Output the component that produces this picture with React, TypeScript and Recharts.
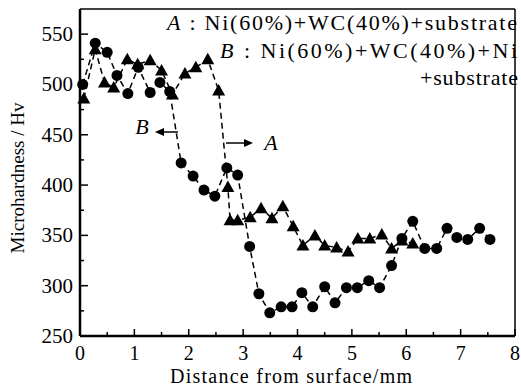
import { LineChart, Line, XAxis, YAxis, ReferenceLine } from "recharts";

// ── Data ───────────────────────────────────────────────────────────

// A : Ni(60%)+WC(40%)+substrate  (triangles)
const A_X = [0.07, 0.28, 0.45, 0.62, 0.87, 1.06, 1.29, 1.5, 1.7, 1.93, 2.13, 2.35, 2.55, 2.72, 2.76, 2.9, 3.13, 3.33, 3.53, 3.73, 3.92, 4.1, 4.32, 4.5, 4.72, 4.93, 5.11, 5.33, 5.55, 5.73, 5.92, 6.12];
const A_HV = [486, 535, 502, 497, 525, 520, 524, 514, 490, 511, 517, 525, 494, 398, 365, 365, 368, 377, 367, 379, 359, 340, 350, 340, 338, 334, 347, 347, 351, 337, 345, 342];

// B : Ni(60%)+WC(40%)+Ni+substrate  (circles)
const B_X = [0.05, 0.28, 0.5, 0.68, 0.88, 1.07, 1.29, 1.47, 1.65, 1.86, 2.08, 2.28, 2.48, 2.7, 2.9, 3.12, 3.29, 3.49, 3.7, 3.9, 4.08, 4.28, 4.5, 4.69, 4.9, 5.1, 5.31, 5.51, 5.73, 5.92, 6.12, 6.34, 6.56, 6.75, 6.93, 7.13, 7.35, 7.54];
const B_HV = [500, 541, 532, 509, 491, 517, 492, 502, 493, 422, 409, 395, 389, 417, 410, 339, 292, 273, 279, 279, 293, 279, 299, 283, 298, 298, 305, 298, 320, 347, 364, 337, 337, 357, 348, 346, 357, 346];

const X_TICKS = [0, 0.5, 1, 1.5, 2, 2.5, 3, 3.5, 4, 4.5, 5, 5.5, 6, 6.5, 7, 7.5, 8];
const Y_TICKS = [250, 275, 300, 325, 350, 375, 400, 425, 450, 475, 500, 525, 550];

const LEGEND_A = "A : Ni(60%)+WC(40%)+substrate";
const LEGEND_B1 = "B : Ni(60%)+WC(40%)+Ni";
const LEGEND_B2 = "+substrate";
const X_LABEL = "Distance from surface/mm";
const Y_LABEL = "Microhardness / Hv";

const seriesA = A_X.map((x, i) => ({ x, hv: A_HV[i] }));
const seriesB = B_X.map((x, i) => ({ x, hv: B_HV[i] }));

const FONT = '"Liberation Serif", "Times New Roman", serif';
const serif: React.CSSProperties = { fontFamily: FONT };

// ── Ticks & markers ────────────────────────────────────────────────

// eslint-disable-next-line @typescript-eslint/no-explicit-any
function XTick(props: any) {
  const { x, y, payload } = props;
  const major = Number.isInteger(payload.value);
  return (
    <g>
      <line x1={x} x2={x} y1={y} y2={y - (major ? 7 : 4)} stroke="#000" strokeWidth={1.5} />
      {major && (
        <text x={x} y={y + 24} textAnchor="middle" fontSize={20} style={serif} fill="#000">
          {payload.value}
        </text>
      )}
    </g>
  );
}

// eslint-disable-next-line @typescript-eslint/no-explicit-any
function YTick(props: any) {
  const { x, y, payload } = props;
  const major = payload.value % 50 === 0;
  return (
    <g>
      <line x1={x} x2={x + (major ? 8 : 4)} y1={y} y2={y} stroke="#000" strokeWidth={1.5} />
      {major && (
        <text x={x - 7} y={y + 7} textAnchor="end" fontSize={21} style={serif} fill="#000">
          {payload.value}
        </text>
      )}
    </g>
  );
}

// eslint-disable-next-line @typescript-eslint/no-explicit-any
function TriangleDot(props: any) {
  const { cx, cy, index } = props;
  if (cx == null || cy == null) return <g key={index} />;
  return <polygon key={index} points={`${cx},${cy - 6.5} ${cx - 6.5},${cy + 5} ${cx + 6.5},${cy + 5}`} fill="#000" />;
}

// eslint-disable-next-line @typescript-eslint/no-explicit-any
function CircleDot(props: any) {
  const { cx, cy, index } = props;
  if (cx == null || cy == null) return <g key={index} />;
  return <circle key={index} cx={cx} cy={cy} r={5.5} fill="#000" />;
}

// ── Chart ──────────────────────────────────────────────────────────

export default function App() {
  return (
    <div style={{ position: "absolute", left: 0, top: 0, width: 521, height: 390, background: "#fff", fontFamily: FONT }}>
      <LineChart width={521} height={390} margin={{ top: 9, right: 6, bottom: 0, left: 0 }}>
        <XAxis
          dataKey="x"
          type="number"
          domain={[0, 8]}
          ticks={X_TICKS}
          interval={0}
          tickSize={0}
          tickMargin={0}
          tick={<XTick />}
          height={54}
          axisLine={{ stroke: "#000", strokeWidth: 2.5 }}
          tickLine={false}
        />
        <YAxis
          dataKey="hv"
          type="number"
          domain={[250, 575]}
          ticks={Y_TICKS}
          interval={0}
          tickSize={0}
          tickMargin={0}
          tick={<YTick />}
          width={80}
          axisLine={{ stroke: "#000", strokeWidth: 2.5 }}
          tickLine={false}
        />
        <ReferenceLine y={575} stroke="#000" strokeWidth={1.5} />
        <ReferenceLine x={8} stroke="#000" strokeWidth={1.5} />
        <Line
          data={seriesA}
          dataKey="hv"
          type="linear"
          stroke="#000"
          strokeWidth={1.5}
          strokeDasharray="6 4"
          dot={<TriangleDot />}
          isAnimationActive={false}
        />
        <Line
          data={seriesB}
          dataKey="hv"
          type="linear"
          stroke="#000"
          strokeWidth={1.5}
          strokeDasharray="6 4"
          dot={<CircleDot />}
          isAnimationActive={false}
        />
      </LineChart>
      <svg width={521} height={390} style={{ position: "absolute", left: 0, top: 0, pointerEvents: "none", fontFamily: FONT }} fill="#000">
        {/* axis titles */}
        <text x={291} y={383} fontSize={20} textAnchor="middle" textLength={242} lengthAdjust="spacing" style={serif}>{X_LABEL}</text>
        <text x={24} y={178} fontSize={19} textAnchor="middle" transform="rotate(-90 24 178)" style={serif}>{Y_LABEL}</text>
        {/* legend */}
        <text x={167} y={30} fontSize={22} textLength={350} lengthAdjust="spacing" style={serif}>
          <tspan fontStyle="italic">A</tspan>
          {LEGEND_A.slice(1)}
        </text>
        <text x={220} y={58} fontSize={22} textLength={297} lengthAdjust="spacing" style={serif}>
          <tspan fontStyle="italic">B</tspan>
          {LEGEND_B1.slice(1)}
        </text>
        <text x={420} y={85} fontSize={22} textLength={98} lengthAdjust="spacing" style={serif}>
          {LEGEND_B2}
        </text>
        {/* B annotation arrow */}
        <text x={142} y={134} fontSize={22} fontStyle="italic" textAnchor="middle" style={serif}>B</text>
        <line x1={178} y1={132} x2={162} y2={132} stroke="#000" strokeWidth={1.5} />
        <polygon points="155,132 164,128 164,136" />
        {/* A annotation arrow */}
        <line x1={226} y1={143} x2={245} y2={143} stroke="#000" strokeWidth={1.5} />
        <polygon points="253,143 244,139 244,147" />
        <text x={271} y={150} fontSize={22} fontStyle="italic" textAnchor="middle" style={serif}>A</text>
      </svg>
    </div>
  );
}
